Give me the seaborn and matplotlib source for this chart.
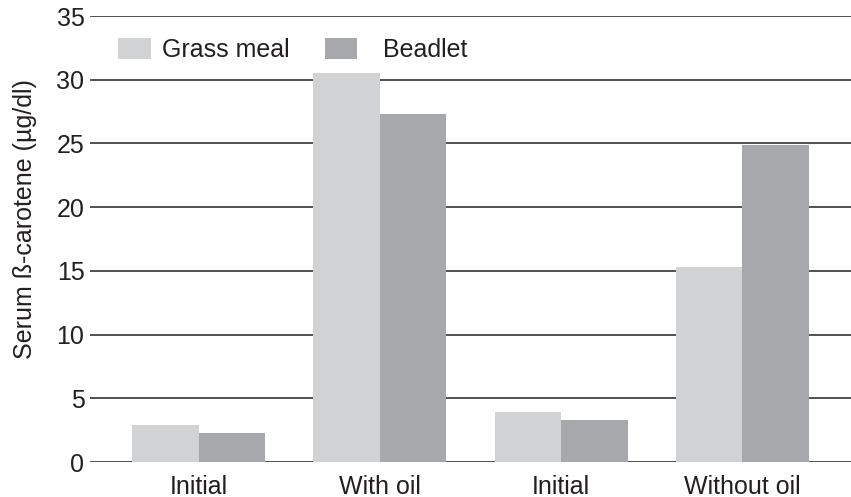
import pandas as pd
import seaborn as sns
from matplotlib import pyplot as plt

# chart data
groups = ["Initial", "With oil", "Initial", "Without oil"]
grass_meal = [2.9, 30.5, 3.9, 15.3]
beadlet = [2.3, 27.3, 3.3, 24.9]
series = ["Grass meal", "Beadlet"]
colors = ["#d1d2d4", "#a7a8ab"]

# groups repeat ("Initial" twice), so key each one by its position
keys = ["g%d" % i for i in range(len(groups))]
df = pd.DataFrame({
    "group": keys * 2,
    "series": [series[0]] * len(keys) + [series[1]] * len(keys),
    "value": grass_meal + beadlet,
})

sns.set_style("white")
plt.rcParams["font.family"] = ["Liberation Sans", "DejaVu Sans"]
fs = 18

fig = plt.figure(figsize=(8.51, 4.97), dpi=100)
ax = fig.add_axes([90 / 851, 35 / 497, 761 / 851, 446 / 497])

sns.barplot(data=df, x="group", y="value", hue="series", order=keys,
            hue_order=series, palette=colors, width=0.735, gap=0,
            saturation=1, linewidth=0, ax=ax)

ax.set_ylim(0, 35)
ax.set_xlim(-0.6, len(keys) - 0.4)
ax.set_yticks(range(0, 36, 5))
ax.set_xticks(range(len(keys)))
ax.set_xticklabels(groups)
ax.set_axisbelow(True)
ax.yaxis.grid(True, color="#231f20", linewidth=1.1)
ax.xaxis.grid(False)
for s in ax.spines.values():
    s.set_visible(False)
ax.tick_params(axis="y", length=0, pad=4, labelsize=fs, labelcolor="#231f20")
ax.tick_params(axis="x", length=0, pad=9, labelsize=fs, labelcolor="#231f20")

ax.set_xlabel("")
ax.set_ylabel("Serum ß-carotene (µg/dl)", fontsize=fs, color="#231f20")
ax.yaxis.set_label_coords(-0.069, 0.545)

# the reference leaves a wider gap before "Beadlet"
handles, labels = ax.get_legend_handles_labels()
labels[1] = "  " + labels[1]
ax.legend(handles, labels, loc="upper left", bbox_to_anchor=(0.024, 0.973),
          ncol=2, frameon=False, fontsize=fs, handlelength=1.3, handleheight=0.9,
          handletextpad=0.45, columnspacing=1.41, borderaxespad=0,
          labelcolor="#231f20")

plt.savefig("out.png", dpi=100)
